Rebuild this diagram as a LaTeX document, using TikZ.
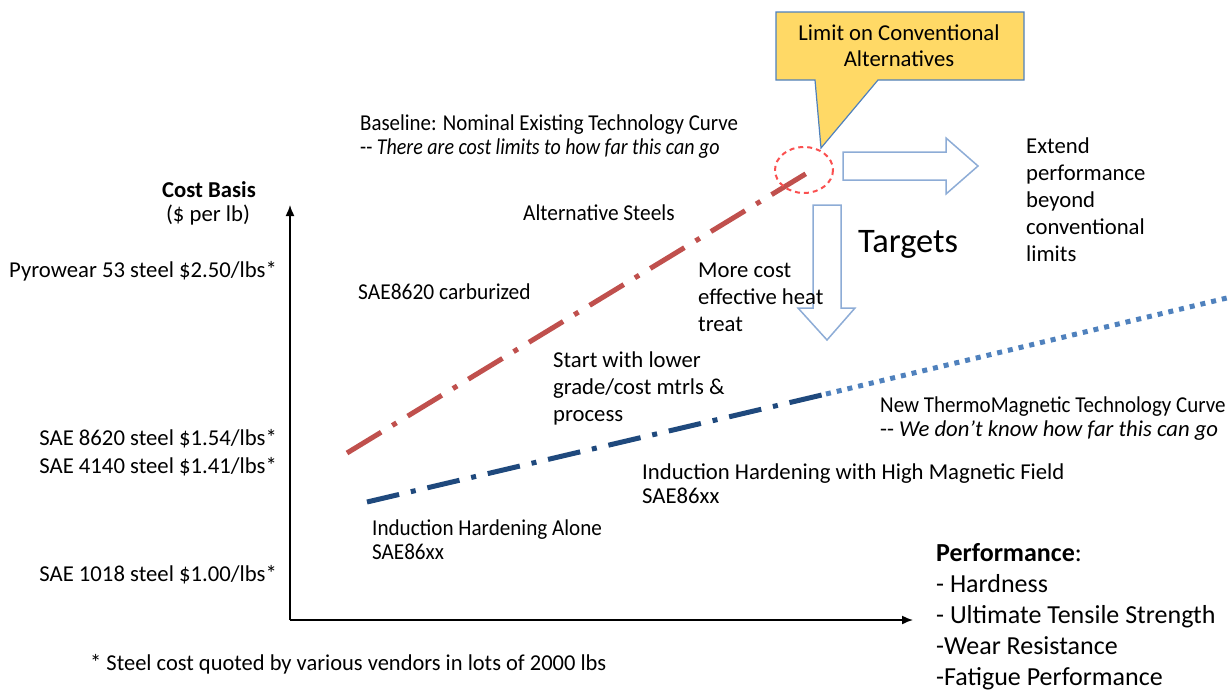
\documentclass[tikz,border=0pt]{standalone}
\usepackage{fontspec}
\setmainfont{Carlito}
\usetikzlibrary{arrows.meta}
\definecolor{curvered}{RGB}{192,80,77}
\definecolor{curvenavy}{RGB}{31,73,125}
\definecolor{curveblue}{RGB}{79,129,189}
\definecolor{calloutfill}{RGB}{255,217,102}
\definecolor{calloutline}{RGB}{79,129,189}
\definecolor{blockline}{RGB}{141,172,214}
\definecolor{limitred}{RGB}{250,80,80}
\newcommand{\narrow}[1]{\addfontfeatures{FakeStretch=#1}}
\begin{document}
\begin{tikzpicture}[x=1pt,y=-1pt,
  big/.style={inner sep=0pt, anchor=base west, font=\fontsize{22.7}{27}\selectfont, align=left},
  small/.style={inner sep=0pt, anchor=base west, font=\fontsize{22.7}{24}\selectfont, align=left},
  axis/.style={line width=1.5pt, -{Latex[length=11pt,width=9pt]}},
  redcurve/.style={line width=5pt, curvered, dash pattern=on 40pt off 13pt on 5pt off 13pt},
  navycurve/.style={line width=5pt, curvenavy, dash pattern=on 33pt off 12pt on 5pt off 12pt},
  dotcurve/.style={line width=5pt, curveblue, dash pattern=on 5pt off 6pt},
  blockarrow/.style={draw=blockline, line width=1.5pt, fill=white, line join=miter}]
\useasboundingbox (0,0) rectangle (1231,691);

% axes
\coordinate (origin) at (290,620);
\coordinate (ytip) at (290,205);
\coordinate (xtip) at (913,620);
\draw[axis] (origin) -- (ytip);
\draw[axis] (origin) -- (xtip);

% technology curves
\coordinate (redstart) at (347,453);
\coordinate (redend) at (812,170);
\coordinate (navystart) at (367,502);
\coordinate (navyend) at (826,394);
\coordinate (dotend) at (1231,297);
\draw[redcurve] (redstart) -- (redend);
\draw[navycurve] (navystart) -- (navyend);
\draw[dotcurve] (navyend) -- (dotend);

% limit marker
\draw[limitred, line width=2pt, dash pattern=on 5pt off 4pt] (804,170) ellipse [x radius=29, y radius=23];

% block arrows
\draw[blockarrow] (843,152) -- (946,152) -- (946,138) -- (978,166) -- (946,194) -- (946,180) -- (843,180) -- cycle;
\draw[blockarrow] (813,205) -- (841,205) -- (841,308) -- (855,308) -- (827,340) -- (798,308) -- (813,308) -- cycle;

% callout
\draw[fill=calloutfill, draw=calloutline, line width=1.2pt, line join=miter]
  (776,12) -- (1024,12) -- (1024,80) -- (878,80) -- (821,148) -- (815,80) -- (776,80) -- cycle;
\node[inner sep=0pt, align=center, font=\fontsize{22.7}{26}\selectfont] (limit) at (899,46) {Limit on Conventional\\Alternatives};

% vertical axis labels
\node[inner sep=0pt, anchor=base, font=\bfseries\fontsize{22.7}{27}\selectfont] (costbasis) at (209,197) {Cost Basis};
\node[inner sep=0pt, anchor=base, font=\fontsize{22.7}{27}\selectfont] (perlb) at (208,221) {(\$ per lb)};
\node[big, anchor=base east] (pyro) at (277,277) {Pyrowear 53 steel \$2.50/lbs*};
\node[big, anchor=base east] (sae8620) at (277,445) {SAE 8620 steel \$1.54/lbs*};
\node[big, anchor=base east] (sae4140) at (277,473) {SAE 4140 steel \$1.41/lbs*};
\node[big, anchor=base east] (sae1018) at (277,581) {SAE 1018 steel \$1.00/lbs*};

% curve annotations (multi-line nodes sit on the baseline of their last line)
\node[small] (baseline) at (360,154) {{\narrow{0.92}Baseline: Nominal Existing Technology Curve}\\{\narrow{0.88}-{}- \textit{There are cost limits to how far this can go}}};
\node[small, font=\narrow{0.94}\fontsize{22.7}{24}\selectfont] (altsteels) at (523,220) {Alternative Steels};
\node[small, font=\narrow{0.945}\fontsize{22.7}{24}\selectfont] (carb) at (358,299) {SAE8620 carburized};
\node[big] (heattreat) at (698,331) {More cost\\effective heat\\treat};
\node[big] (lower) at (553,421) {Start with lower\\grade/cost mtrls \&\\process};
\node[inner sep=0pt, anchor=base west, font=\fontsize{34.4}{40}\selectfont] (targets) at (858,252) {Targets};
\node[big] (extend) at (1026,261) {Extend\\performance\\beyond\\conventional\\limits};
\node[small] (newcurve) at (880,436) {{\narrow{0.925}New ThermoMagnetic Technology Curve}\\-{}- \textit{We don’t know how far this can go}};
\node[small] (highfield) at (642,503) {Induction Hardening with High Magnetic Field\\SAE86xx};
\node[small, font=\narrow{0.93}\fontsize{22.7}{24}\selectfont] (alone) at (372,559) {Induction Hardening Alone\\SAE86xx};

% horizontal axis label
\node[big, font=\fontsize{26}{31}\selectfont] (perf) at (936,685) {\textbf{Performance}:\\- Hardness\\- Ultimate Tensile Strength\\-Wear Resistance\\-Fatigue Performance};

% footnote
\node[small, font=\narrow{0.99}\fontsize{22.7}{24}\selectfont] (note) at (90,670) {* Steel cost quoted by various vendors in lots of 2000 lbs};
\end{tikzpicture}
\end{document}
